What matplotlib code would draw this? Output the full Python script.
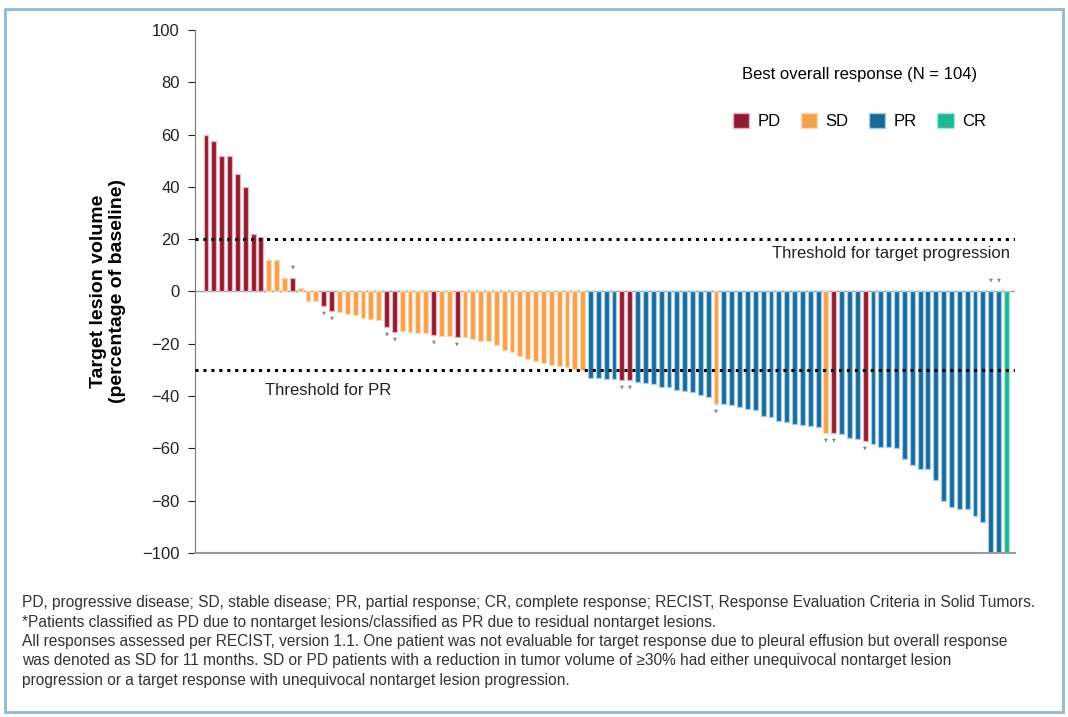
import matplotlib.pyplot as plt
from matplotlib.patches import Patch, Rectangle

plt.rcParams['font.family'] = ['Liberation Sans Narrow', 'Liberation Sans', 'DejaVu Sans']

# best percentage change in target lesion volume, one value per patient (sorted)
change = [60, 57.5, 52, 52, 45, 40, 22, 21,
          12, 12, 5, 5, 1.5, -3.5, -3.5, -5.5, -7.5,
          -8, -8.5, -9, -10, -10.5, -11, -13.5, -15.5,
          -15, -15.5, -16, -16, -16.5, -17, -17, -17.5,
          -17.5, -18, -19, -19, -20.5, -22.5, -23, -24.5,
          -26, -26.5, -27.5, -28, -28.5, -29, -29.5, -30,
          -33, -33, -33.5, -33.5, -34, -34,
          -34.5, -35, -35.5, -36.5, -36.5, -37.5, -38, -38.5, -39.5, -40.5,
          -43,
          -43, -43.5, -44, -45, -45.5, -47.5, -48, -49.5, -50, -50.5, -51, -51.5, -52,
          -54, -54,
          -54.5, -56, -56.5, -57,
          -58.5, -59.5, -59.5, -60, -64, -66.5, -68, -68, -72,
          -80, -82.5, -83, -83, -86, -88, -100, -100,
          -100]

# best overall response for each bar
response = (['PD'] * 8 + ['SD'] * 3 + ['PD'] + ['SD'] * 3 + ['PD'] * 2
            + ['SD'] * 6 + ['PD'] * 2 + ['SD'] * 4 + ['PD'] + ['SD'] * 2 + ['PD']
            + ['SD'] * 16 + ['PR'] * 4 + ['PD'] * 2 + ['PR'] * 10 + ['SD']
            + ['PR'] * 13 + ['SD'] + ['PD'] + ['PR'] * 3 + ['PD']
            + ['PR'] * 17 + ['CR'])

# bars flagged with an asterisk (nontarget lesion classification)
star_above = [11, 100, 101]
star_below = [15, 16, 23, 24, 29, 32, 53, 54, 65, 79, 80, 84]

dark = {'PD': '#8c1c2e', 'SD': '#f3a04f', 'PR': '#1d6795', 'CR': '#1fb596'}
light = {'PD': '#eeb0bd', 'SD': '#fdd8b0', 'PR': '#9fd0ef', 'CR': '#a6e8d6'}

fig = plt.figure(figsize=(10.68, 7.17), dpi=100)
ax = fig.add_axes([0.1826, 0.2287, 0.7678, 0.7295])

x = range(len(change))
ax.bar(x, change, width=0.62,
       color=[dark[r] for r in response],
       edgecolor=[light[r] for r in response], linewidth=0.9)

for i in star_above:
    ax.text(i, max(change[i], 0) + 3.5, '*', ha='center', va='center',
            fontsize=7, color='#555555')
for i in star_below:
    ax.text(i, change[i] - 3.5, '*', ha='center', va='center',
            fontsize=7, color='#555555')

ax.axhline(0, color='#9a9a9a', lw=1, zorder=0)
ax.axhline(20, color='black', lw=2.2, ls=(0, (1, 1.6)), zorder=3)
ax.axhline(-30, color='black', lw=2.2, ls=(0, (1, 1.6)), zorder=3)
ax.text(102.4, 14.5, 'Threshold for target progression', ha='right', va='center',
        fontsize=12, color='#222222')
ax.text(7.5, -38, 'Threshold for PR', ha='left', va='center',
        fontsize=12, color='#222222')

ax.set_xlim(-1.4, 103.1)
ax.set_ylim(-100, 100)
ax.set_yticks(range(-100, 101, 20))
ax.set_xticks([])
ax.tick_params(axis='y', labelsize=12, length=5, pad=6, colors='#222222')
for s in ['top', 'right']:
    ax.spines[s].set_visible(False)
ax.spines['left'].set_color('#777777')
ax.spines['bottom'].set_color('#999999')
ax.spines['bottom'].set_linewidth(1.5)
ax.set_ylabel('Target lesion volume\n(percentage of baseline)', fontsize=14,
              fontweight='bold', labelpad=12, linespacing=1.1)

handles = [Patch(facecolor=dark[k], edgecolor=light[k], label=k) for k in ['PD', 'SD', 'PR', 'CR']]
leg = ax.legend(handles=handles, ncol=4, frameon=False, loc='center',
                bbox_to_anchor=(0.81, 0.87), title='Best overall response (N = 104)',
                fontsize=12, title_fontsize=12, handlelength=1.0, handleheight=1.0,
                columnspacing=1.2, handletextpad=0.5)
leg._legend_box.sep = 22

notes = [
    'PD, progressive disease; SD, stable disease; PR, partial response; CR, complete response; RECIST, Response Evaluation Criteria in Solid Tumors.',
    '*Patients classified as PD due to nontarget lesions/classified as PR due to residual nontarget lesions.',
    'All responses assessed per RECIST, version 1.1. One patient was not evaluable for target response due to pleural effusion but overall response',
    'was denoted as SD for 11 months. SD or PD patients with a reduction in tumor volume of \u226530% had either unequivocal nontarget lesion',
    'progression or a target response with unequivocal nontarget lesion progression.',
]
for k, line in enumerate(notes):
    fig.text(22 / 1068, 1 - (603 + 19.3 * k) / 717, line, fontsize=11.2,
             color='#333333', va='center', ha='left')

# outer frame
fig.patches.append(Rectangle((5 / 1068, 5 / 717), 1058 / 1068, 703 / 717,
                             transform=fig.transFigure, fill=False,
                             edgecolor='#8dbbd6', lw=2))

fig.savefig('out.png', dpi=100)
